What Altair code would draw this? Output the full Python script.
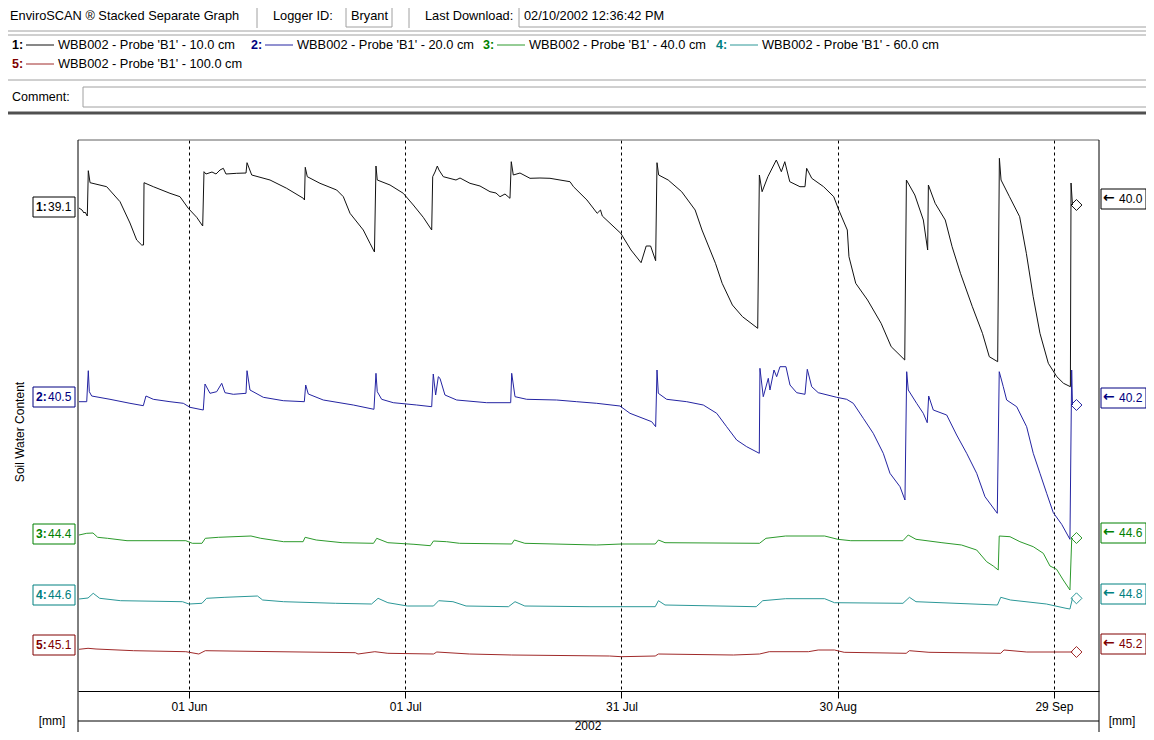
import altair as alt
import pandas as pd

# ---------------- data (days since 2002-06-01, soil water content in mm) ----------------
probe1 = [(-15.26,39.10),(-14.84,38.90),(-14.57,38.60),(-14.43,38.70),(-14.11,38.30),(-13.97,42.83),(-13.73,41.63),
          (-11.42,41.23),(-9.57,39.73),(-8.19,37.60),(-7.26,35.90),(-6.56,35.40),(-6.31,35.40),(-6.24,41.63),(-4.95,41.23),
          (-2.64,40.57),(-1.25,40.23),(-0.10,39.07),(1.07,38.17),(1.90,37.30),(2.08,42.73),(2.36,42.50),(3.19,42.70),
          (3.75,42.50),(4.30,42.90),(4.76,43.07),(5.13,42.50),(6.62,42.57),(7.91,42.60),(8.05,43.63),(8.70,42.40),
          (11.24,41.90),(13.55,41.07),(15.86,40.07),(16.02,39.90),(16.13,43.17),(16.41,42.23),(18.17,41.57),(20.49,40.90),
          (21.41,40.23),(22.34,38.57),(24.18,36.90),(25.11,35.57),(25.73,34.70),(25.94,43.30),(26.12,41.90),(27.89,41.40),
          (29.73,40.57),(31.12,39.40),(32.50,38.17),(33.67,36.90),(33.81,42.23),(34.13,42.70),(34.45,43.30),(34.68,42.90),
          (35.28,42.23),(37.04,41.90),(37.60,42.10),(38.98,41.57),(40.37,41.30),(41.76,40.73),(42.59,40.60),(43.15,40.23),
          (43.84,40.50),(44.53,40.07),(44.71,43.73),(44.99,42.40),(45.92,42.60),(47.31,42.07),(48.69,42.10),(50.08,42.07),
          (51.47,41.90),(52.86,41.73),(53.34,41.23),(55.21,39.90),(56.63,38.57),(57.09,38.90),(57.34,38.30),(59.90,36.57),
          (61.32,34.90),(62.72,33.63),(63.43,35.30),(64.04,35.30),(64.74,33.83),(64.93,43.63),(65.16,42.40),(66.48,41.90),
          (68.35,40.73),(70.22,38.90),(71.17,36.90),(73.04,33.57),(73.97,31.57),(75.39,29.40),(76.79,28.23),(78.90,27.07),
          (79.13,42.40),(79.51,40.73),(80.31,42.23),(81.48,43.90),(82.18,42.73),(82.66,43.73),(83.35,41.73),(84.76,41.23),
          (85.46,41.23),(85.69,43.07),(86.40,42.07),(88.04,41.23),(89.45,40.23),(90.15,38.90),(91.33,36.90),(91.56,34.23),
          (92.50,31.57),(94.14,29.90),(96.02,27.57),(97.42,25.23),(98.36,24.57),(99.30,23.90),(99.53,41.90),(100.70,40.40),
          (101.88,37.90),(102.48,34.90),(102.58,41.40),(103.52,39.57),(104.92,37.90),(105.87,35.23),(107.03,32.57),
          (108.68,29.23),(110.08,26.57),(111.03,24.23),(112.19,23.73),(112.43,44.07),(112.66,41.90),(113.83,40.23),
          (115.24,38.23),(116.17,34.57),(117.12,30.23),(118.06,26.57),(119.22,23.57),(120.40,22.23),(121.33,21.57),
          (122.28,21.23),(122.37,41.60),(122.57,39.40)]

probe2 = [(-15.26,40.23),(-14.19,40.23),(-13.97,43.33),(-13.83,41.23),(-13.50,40.80),(-10.96,40.47),(-8.19,40.07),
          (-6.34,39.83),(-5.97,40.80),(-4.95,40.47),(-2.64,40.23),(-0.79,40.07),(0.14,39.67),(1.98,39.40),(2.22,42.00),
          (2.91,41.07),(3.84,41.23),(4.54,42.07),(4.99,41.13),(6.15,40.97),(7.91,41.07),(8.05,43.33),(8.46,41.40),
          (10.31,40.67),(13.08,40.33),(16.00,40.23),(16.19,41.90),(16.55,41.00),(18.63,40.40),(22.79,39.90),(25.66,39.47),
          (25.94,43.07),(26.12,41.23),(26.73,40.47),(28.34,40.13),(31.59,39.90),(33.67,39.73),(33.89,43.00),(34.22,40.90),
          (34.59,42.73),(34.82,42.57),(35.51,40.90),(37.14,40.40),(41.30,40.13),(44.63,40.13),(44.77,43.07),(45.23,40.73),
          (46.85,40.47),(51.01,40.40),(53.79,40.23),(56.56,40.07),(59.79,39.80),(61.18,39.07),(64.19,38.23),(64.74,37.73),
          (64.93,43.40),(65.11,41.07),(66.27,40.47),(69.05,40.23),(71.35,39.90),(73.21,39.07),(74.59,37.73),(75.98,36.40),
          (77.37,35.73),(79.12,35.07),(79.21,43.57),(79.67,40.73),(80.37,42.57),(80.60,41.40),(81.16,43.40),(81.53,42.73),
          (81.99,43.73),(82.82,43.73),(83.38,41.90),(84.31,41.13),(85.46,40.97),(85.78,43.47),(86.39,41.73),(87.30,41.13),
          (89.86,40.67),(91.24,40.47),(92.16,40.07),(93.55,38.57),(94.93,37.07),(96.32,35.07),(97.25,33.07),(98.64,31.73),
          (99.33,30.40),(99.57,43.23),(99.79,41.40),(100.95,40.07),(101.87,39.07),(102.42,38.13),(102.62,40.80),
          (103.26,39.40),(105.12,38.90),(106.50,36.90),(107.89,35.07),(109.28,33.07),(110.43,30.73),(112.14,29.07),
          (112.41,43.23),(112.97,41.73),(113.44,40.40),(114.83,39.73),(116.21,37.73),(117.13,35.07),(118.06,33.07),
          (118.99,31.07),(119.91,29.13),(121.07,27.97),(122.22,26.47),(122.46,43.40),(122.57,39.90)]

probe3 = [(-15.26,44.60),(-14.19,44.77),(-13.32,44.80),(-12.67,44.37),(-11.31,44.27),(-8.60,44.03),(-0.44,44.03),
          (0.46,43.77),(1.80,43.77),(2.26,44.27),(4.08,44.37),(8.60,44.50),(9.95,44.27),(13.12,43.93),(15.83,43.93),
          (16.11,44.37),(17.65,44.10),(21.25,43.83),(25.60,43.77),(26.05,44.27),(27.59,43.83),(31.21,43.67),(33.48,43.53),
          (33.92,44.00),(35.74,43.93),(37.54,43.77),(44.77,43.70),(45.14,44.10),(46.59,43.77),(56.53,43.60),(59.97,43.70),
          (64.68,43.70),(65.13,44.10),(66.04,43.83),(79.15,43.77),(80.05,44.27),(82.77,44.50),(88.19,44.50),(90.01,44.17),
          (91.81,44.03),(99.05,44.03),(99.78,44.60),(100.86,44.17),(104.46,43.83),(107.18,43.60),(109.28,43.10),
          (110.66,41.93),(111.58,41.50),(112.27,41.10),(112.41,44.50),(113.90,44.43),(115.28,43.93),(117.13,43.43),
          (118.52,42.77),(119.45,41.50),(120.37,41.17),(121.29,40.10),(122.22,39.10),(122.46,44.10),(122.57,44.30)]

probe4 = [(-15.26,44.60),(-14.01,44.70),(-13.29,45.17),(-12.39,44.67),(-9.49,44.43),(-0.90,44.33),(0.00,44.10),
          (1.80,44.17),(2.44,44.67),(4.98,44.77),(9.50,44.90),(10.22,44.50),(13.12,44.33),(20.35,44.17),(25.33,44.10),
          (26.23,44.67),(27.59,44.23),(30.30,43.90),(33.92,43.90),(34.64,44.43),(36.62,44.33),(38.44,43.90),(44.32,43.83),
          (45.23,44.33),(46.59,43.90),(55.63,43.83),(64.68,43.83),(65.13,44.43),(66.04,44.00),(78.69,43.83),(79.60,44.43),
          (82.77,44.63),(88.19,44.63),(89.55,44.23),(99.05,44.17),(99.95,44.77),(100.86,44.33),(112.16,44.00),
          (112.62,44.77),(113.97,44.50),(118.95,44.10),(121.67,43.67),(122.22,43.60),(122.57,44.67)]

probe5 = [(-15.26,45.07),(-14.01,45.17),(-12.90,45.10),(-7.69,44.93),(-0.44,44.83),(1.36,44.60),(2.26,44.93),
          (12.21,44.83),(23.07,44.73),(23.45,44.60),(25.78,44.83),(27.59,44.67),(33.92,44.60),(34.38,44.80),(38.90,44.60),
          (44.77,44.50),(58.34,44.40),(59.97,44.33),(64.68,44.40),(65.13,44.60),(75.53,44.50),(79.15,44.60),(80.51,44.83),
          (85.93,44.83),(87.29,45.00),(89.55,45.00),(90.90,44.77),(99.50,44.67),(99.95,44.93),(102.66,44.77),
          (112.62,44.67),(113.06,45.00),(116.23,44.80),(122.57,44.80)]

series_ids = ["1:", "2:", "3:", "4:", "5:"]
series_names = ["WBB002 - Probe 'B1' - 10.0 cm", "WBB002 - Probe 'B1' - 20.0 cm",
                "WBB002 - Probe 'B1' - 40.0 cm", "WBB002 - Probe 'B1' - 60.0 cm",
                "WBB002 - Probe 'B1' - 100.0 cm"]
start_labels = ["39.1", "40.5", "44.4", "44.6", "45.1"]
end_labels = ["40.0", "40.2", "44.6", "44.8", "45.2"]
tick_dates = [(2002, 6, 1), (2002, 7, 1), (2002, 7, 31), (2002, 8, 30), (2002, 9, 29)]
year_label = "2002"

# ---------------- styling / layout ----------------
FONT = "Liberation Sans, Arial, DejaVu Sans"
ARROW_FONT = "DejaVu Sans"
LINE_COLORS = ["#111111", "#2424a2", "#2c9a2c", "#2c9898", "#a02a2a"]
LABEL_COLORS = ["#000000", "#000080", "#008000", "#008080", "#800000"]
GREY = "#a0a0a0"

W, H = 1021, 551          # plot area
OX, OY = 78, 140          # page position of plot origin
PAD = {"left": OX - 8, "top": OY - 8, "right": 1154 - 16 - (OX - 8) - W, "bottom": 740 - 16 - (OY - 8) - H}

# each probe gets its own vertical band (stacked separate graph)
BAND_C = [59.9, 80.4, 98.1, 104.5, 110.0]

dummy = pd.DataFrame({"k": [0]})


def txt(x, y, s, color="#000000", size=12, bold=False, align="left", angle=0, font=FONT):
    return alt.Chart(dummy).mark_text(
        align=align, baseline="middle", font=font, fontSize=size,
        fontWeight="bold" if bold else "normal", color=color, angle=angle
    ).encode(x=alt.value(x - OX), y=alt.value(y - OY), text=alt.value(s))


def rule(x1, y1, x2, y2, color="#000000", width=1):
    return alt.Chart(dummy).mark_rule(color=color, strokeWidth=width).encode(
        x=alt.value(x1 - OX), x2=alt.value(x2 - OX), y=alt.value(y1 - OY), y2=alt.value(y2 - OY))


def box(x1, y1, x2, y2, stroke=GREY, fill="#ffffff"):
    return alt.Chart(dummy).mark_rect(fill=fill, stroke=stroke, strokeWidth=1).encode(
        x=alt.value(x1 - OX), x2=alt.value(x2 - OX), y=alt.value(y1 - OY), y2=alt.value(y2 - OY))


def frame(pts):
    days = [p[0] for p in pts]
    vals = [p[1] for p in pts]
    dates = pd.Timestamp("2002-06-01") + pd.to_timedelta(days, unit="D")
    return pd.DataFrame({"date": dates.strftime("%Y-%m-%dT%H:%M:%S"), "value": vals})


layers = []

# ---- header ----
HS = 12.8
HY = 16
layers += [
    txt(10, HY, "EnviroSCAN ® Stacked Separate Graph", size=HS),
    rule(257, 3, 257, 28, GREY), rule(409, 3, 409, 28, GREY),
    txt(273, HY, "Logger ID:", size=HS),
    box(346, 5, 392, 27), txt(351, HY, "Bryant", size=HS),
    txt(425, HY, "Last Download:", size=HS),
    box(519, 5, 1154, 27), txt(524, HY, "02/10/2002 12:36:42 PM", size=HS),
    rule(0, 31, 1154, 31, GREY),
    rule(0, 35, 1154, 35, GREY),
    rule(0, 80, 1154, 80, GREY),
    txt(12, 97, "Comment:", size=12.5),
    box(83, 87, 1154, 107),
    rule(0, 113, 1154, 113, "#505050", 3),
]

legend_pos = [(12, 45), (251, 45), (483, 45), (716, 45), (12, 64)]
for i, (lx, ly) in enumerate(legend_pos):
    layers += [
        txt(lx, ly, series_ids[i], LABEL_COLORS[i], 12.5, True),
        rule(lx + 14, ly, lx + 42, ly, LINE_COLORS[i]),
        txt(lx + 46, ly, series_names[i], "#000000", 12.8),
    ]

# ---- plot frame ----
layers += [
    rule(OX, OY, OX + W, OY, "#606060"),
    rule(OX, OY, OX, 740, "#000000"),
    rule(OX + W, OY, OX + W, 740, "#000000"),
    rule(OX, 721, OX + W, 721, "#000000"),
    txt(588, 726, year_label, align="center"),
    txt(52, 721, "[mm]", align="center"),
    txt(1122, 721, "[mm]", align="center"),
    txt(20, 432, "Soil Water Content", angle=270, align="center"),
]

left_c = [207, 397, 534, 595, 645]
right_c = [199, 398, 533, 594, 644]
for i in range(5):
    c = left_c[i]
    layers += [
        box(33, c - 10, 75, c + 10, LABEL_COLORS[i]),
        txt(36, c, series_ids[i], LABEL_COLORS[i], 12, True),
        txt(48, c, start_labels[i], LABEL_COLORS[i], 12),
    ]
    c = right_c[i]
    layers += [
        box(1101, c - 10, 1146, c + 10, LABEL_COLORS[i]),
        txt(1103, c - 1, "←", LABEL_COLORS[i], 14, True, font=ARROW_FONT),
        txt(1119, c, end_labels[i], LABEL_COLORS[i], 12),
    ]

# ---- data lines ----
x_enc = alt.X(
    "date:T",
    scale=alt.Scale(domain=[alt.DateTime(year=2002, month=5, date=16, hours=14, minutes=24),
                            alt.DateTime(year=2002, month=10, date=5, hours=6)]),
    axis=alt.Axis(
        values=[alt.DateTime(year=y, month=m, date=d) for (y, m, d) in tick_dates],
        format="%d %b", title=None, grid=True, gridDash=[3, 3], gridColor="#000000",
        gridOpacity=1, gridWidth=1, domainColor="#000000", tickColor="#000000", tickSize=7,
        labelFont=FONT, labelFontSize=12, labelColor="#000000", labelPadding=3, labelFlush=False,
    ),
)

probes = [probe1, probe2, probe3, probe4, probe5]
for i, pts in enumerate(probes):
    df = frame(pts)
    c = BAND_C[i]
    y_enc = alt.Y("value:Q", scale=alt.Scale(domain=[c - 69.1, c - 14.0], nice=False, zero=False), axis=None)
    layers.append(alt.Chart(df).mark_line(color=LINE_COLORS[i], strokeWidth=1).encode(x=x_enc, y=y_enc))
    layers.append(alt.Chart(df.tail(1)).mark_point(shape="diamond", filled=False, size=120,
                                                     color=LINE_COLORS[i], strokeWidth=1, xOffset=4,
                                                     opacity=1).encode(x=x_enc, y=y_enc))

chart = alt.layer(*layers).resolve_scale(y="independent").properties(
    width=W, height=H, padding=PAD, autosize=alt.AutoSizeParams(type="none"), background="#ffffff"
).configure_view(stroke=None)

chart.save("out.html", embed_options={"renderer": "svg", "actions": False})
